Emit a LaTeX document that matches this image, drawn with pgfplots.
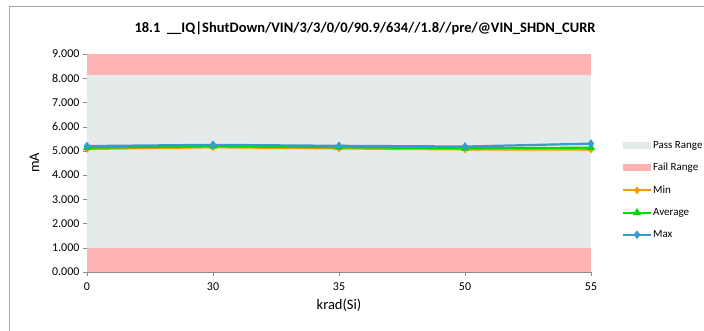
\documentclass[border=0pt]{standalone}
\usepackage{pgfplots}
\pgfplotsset{compat=1.18}
\usepackage{fontspec}
\setmainfont{Carlito}

\definecolor{passcol}{HTML}{E5EAEA}
\definecolor{failcol}{HTML}{FFB3B3}
\definecolor{mincol}{HTML}{FF9A00}
\definecolor{avgcol}{HTML}{00DC00}
\definecolor{maxcol}{HTML}{3A9AD0}
\definecolor{axcol}{HTML}{8C8C8C}

\begin{document}
\begin{tikzpicture}[x=1pt,y=1pt]
\useasboundingbox (0,0) rectangle (704,331);
\draw[color=gray!70, line width=0.8pt] (9,0) -- (9,325) -- (704,325);
\node[font=\bfseries\fontsize{14.5}{16}\selectfont] at (365,303) {18.1\ \ \_\_IQ|ShutDown/VIN/3/3/0/0/90.9/634//1.8//pre/@VIN\_SHDN\_CURR};
\begin{axis}[
    at={(87pt,59pt)}, anchor=south west,
    scale only axis,
    width=504pt, height=218pt,
    xmin=0, xmax=4,
    ymin=0, ymax=9,
    xtick={0,1,2,3,4},
    xticklabels={0,30,35,50,55},
    ytick={0,1,...,9},
    yticklabel style={/pgf/number format/.cd, fixed, fixed zerofill, precision=3},
    /pgf/number format/assume math mode=true,
    ticklabel style={font=\fontsize{12}{14}\selectfont},
    xticklabel style={yshift=-3pt},
    axis x line*=bottom, axis y line*=left,
    axis line style={axcol, -},
    tick style={axcol},
    tick align=outside,
    major tick length=4pt,
    xlabel={krad(Si)},
    ylabel={mA},
    label style={font=\fontsize{14.5}{16}\selectfont},
    xlabel style={yshift=-2pt},
    ylabel style={yshift=6pt},
    clip=false,
    legend style={at={(1.055,0.615)}, anchor=north west, draw=none, fill=none,
        font=\fontsize{11}{13}\selectfont, row sep=11.5pt,
        nodes={inner sep=1pt}},
    legend cell align=left,
    legend image code/.code={\draw[mark repeat=2, mark phase=2] plot coordinates {(0pt,0pt) (14pt,0pt) (28pt,0pt)};},
]
\addplot[fill=passcol, draw=none, area legend,
    legend image code/.code={\fill[passcol] (0pt,-3.5pt) rectangle (28pt,3.5pt);}]
    coordinates {(0,1) (4,1) (4,8.15) (0,8.15)} -- cycle;
\addlegendentry{Pass Range}
\addplot[fill=failcol, draw=none, area legend,
    legend image code/.code={\fill[failcol] (0pt,-3.5pt) rectangle (28pt,3.5pt);}]
    coordinates {(0,0) (4,0) (4,1) (0,1)} -- cycle;
\addlegendentry{Fail Range}
\addplot[fill=failcol, draw=none, forget plot]
    coordinates {(0,8.15) (4,8.15) (4,9) (0,9)} -- cycle;
\addplot[color=mincol, line width=2.2pt, mark=diamond*, mark size=2.2pt]
    coordinates {(0,5.08) (1,5.15) (2,5.10) (3,5.06) (4,5.06)};
\addlegendentry{Min}
\addplot[color=avgcol, line width=2.2pt, mark=triangle*, mark size=2.6pt]
    coordinates {(0,5.13) (1,5.19) (2,5.15) (3,5.11) (4,5.13)};
\addlegendentry{Average}
\addplot[color=maxcol, line width=2.2pt, mark=diamond*, mark size=2.6pt]
    coordinates {(0,5.20) (1,5.25) (2,5.21) (3,5.18) (4,5.30)};
\addlegendentry{Max}
\end{axis}
\end{tikzpicture}
\end{document}
